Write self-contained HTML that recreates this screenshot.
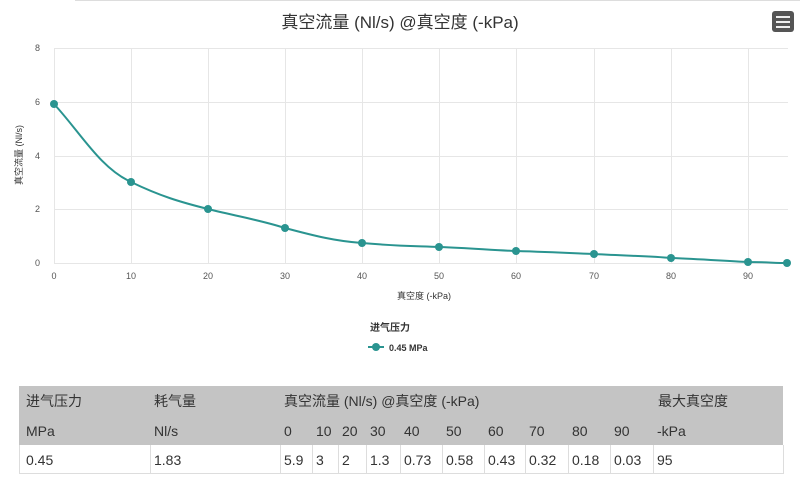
<!DOCTYPE html>
<html><head><meta charset="utf-8"><style>
body{margin:0;width:800px;height:479px;background:#fff;overflow:hidden;position:relative;font-family:"Liberation Sans","Noto Sans CJK SC",sans-serif}
.t{position:absolute;white-space:nowrap}
</style></head><body>
<div style="position:absolute;left:75px;top:0;width:725px;height:1px;background:#ddd"></div>
<div class="t" style="left:0;width:800px;text-align:center;top:8px;font-size:17px;color:#333">真空流量 (Nl/s) @真空度 (-kPa)</div>
<div style="position:absolute;left:772px;top:11px;width:22px;height:21px;background:#555;border-radius:3px"></div>
<div style="position:absolute;left:776px;top:16px;width:14px;height:2px;background:#eee;box-shadow:0 5px 0 #eee,0 10px 0 #eee"></div>
<svg width="800" height="479" style="position:absolute;left:0;top:0" font-family="Liberation Sans, sans-serif">
<g stroke="#e6e6e6" stroke-width="1">
<line x1="54" y1="48.5" x2="788" y2="48.5"/><line x1="54" y1="102.5" x2="788" y2="102.5"/><line x1="54" y1="156.5" x2="788" y2="156.5"/><line x1="54" y1="209.5" x2="788" y2="209.5"/><line x1="54" y1="263.5" x2="788" y2="263.5"/>
<line x1="54.5" y1="48" x2="54.5" y2="263"/><line x1="131.5" y1="48" x2="131.5" y2="263"/><line x1="208.5" y1="48" x2="208.5" y2="263"/><line x1="285.5" y1="48" x2="285.5" y2="263"/><line x1="362.5" y1="48" x2="362.5" y2="263"/><line x1="439.5" y1="48" x2="439.5" y2="263"/><line x1="516.5" y1="48" x2="516.5" y2="263"/><line x1="594.5" y1="48" x2="594.5" y2="263"/><line x1="671.5" y1="48" x2="671.5" y2="263"/><line x1="748.5" y1="48" x2="748.5" y2="263"/>
</g>
<g font-size="9" fill="#555" text-anchor="end">
<text x="40" y="51">8</text><text x="40" y="105">6</text><text x="40" y="159">4</text><text x="40" y="212">2</text><text x="40" y="266">0</text>
</g>
<g font-size="9" fill="#555" text-anchor="middle">
<text x="54" y="279">0</text><text x="131" y="279">10</text><text x="208" y="279">20</text><text x="285" y="279">30</text><text x="362" y="279">40</text><text x="439" y="279">50</text><text x="516" y="279">60</text><text x="594" y="279">70</text><text x="671" y="279">80</text><text x="748" y="279">90</text>
</g>
<text x="424" y="299" font-size="9" fill="#333" text-anchor="middle" font-family="Liberation Sans, Noto Sans CJK SC, sans-serif">真空度 (-kPa)</text>
<text transform="translate(22,155) rotate(-90)" font-size="9" fill="#333" text-anchor="middle" font-family="Liberation Sans, Noto Sans CJK SC, sans-serif">真空流量 (Nl/s)</text>
<path d="M54,104 C80,132 100,168 131,182 C160,196 180,202 208,209 C240,217 260,220 285,228 C315,236 335,241 362,243 C395,246 415,246 439,247 C470,248 490,250 516,251 C550,252 570,253 594,254 C630,256 650,256 671,258 C700,259 725,261 748,262 C765,262 775,263 787,263" fill="none" stroke="#2a9490" stroke-width="2"/>
<g fill="#2a9490">
<circle cx="54" cy="104" r="4"/><circle cx="131" cy="182" r="4"/><circle cx="208" cy="209" r="4"/><circle cx="285" cy="228" r="4"/><circle cx="362" cy="243" r="4"/><circle cx="439" cy="247" r="4"/><circle cx="516" cy="251" r="4"/><circle cx="594" cy="254" r="4"/><circle cx="671" cy="258" r="4"/><circle cx="748" cy="262" r="4"/><circle cx="787" cy="263" r="4"/>
</g>
<text x="370" y="331" font-size="10" font-weight="bold" fill="#333" font-family="Liberation Sans, Noto Sans CJK SC, sans-serif">进气压力</text>
<line x1="368" y1="347" x2="384" y2="347" stroke="#2a9490" stroke-width="2"/><circle cx="376" cy="347" r="4" fill="#2a9490"/>
<text x="389" y="351" font-size="9" font-weight="bold" fill="#333">0.45 MPa</text>
</svg>
<div style="position:absolute;left:19px;top:386px;width:764px;height:59px;background:#c4c4c4"></div>
<div style="position:absolute;left:19px;top:445px;width:763px;height:28px;border:1px solid #ddd;border-top:none"></div>
<div style="position:absolute;left:150px;top:445px;width:1px;height:28px;background:#ddd"></div>
<div style="position:absolute;left:280px;top:445px;width:1px;height:28px;background:#ddd"></div>
<div style="position:absolute;left:312px;top:445px;width:1px;height:28px;background:#ddd"></div>
<div style="position:absolute;left:338px;top:445px;width:1px;height:28px;background:#ddd"></div>
<div style="position:absolute;left:366px;top:445px;width:1px;height:28px;background:#ddd"></div>
<div style="position:absolute;left:400px;top:445px;width:1px;height:28px;background:#ddd"></div>
<div style="position:absolute;left:442px;top:445px;width:1px;height:28px;background:#ddd"></div>
<div style="position:absolute;left:484px;top:445px;width:1px;height:28px;background:#ddd"></div>
<div style="position:absolute;left:525px;top:445px;width:1px;height:28px;background:#ddd"></div>
<div style="position:absolute;left:568px;top:445px;width:1px;height:28px;background:#ddd"></div>
<div style="position:absolute;left:610px;top:445px;width:1px;height:28px;background:#ddd"></div>
<div style="position:absolute;left:653px;top:445px;width:1px;height:28px;background:#ddd"></div>
<div style="font-size:14px;color:#333">
<div class="t" style="left:26px;top:391px">进气压力</div>
<div class="t" style="left:154px;top:391px">耗气量</div>
<div class="t" style="left:284px;top:391px">真空流量 (Nl/s) @真空度 (-kPa)</div>
<div class="t" style="left:658px;top:391px">最大真空度</div>
<div class="t" style="left:26px;top:423px">MPa</div>
<div class="t" style="left:154px;top:423px">Nl/s</div>
<div class="t" style="left:284px;top:423px">0</div>
<div class="t" style="left:316px;top:423px">10</div>
<div class="t" style="left:342px;top:423px">20</div>
<div class="t" style="left:370px;top:423px">30</div>
<div class="t" style="left:404px;top:423px">40</div>
<div class="t" style="left:446px;top:423px">50</div>
<div class="t" style="left:488px;top:423px">60</div>
<div class="t" style="left:529px;top:423px">70</div>
<div class="t" style="left:572px;top:423px">80</div>
<div class="t" style="left:614px;top:423px">90</div>
<div class="t" style="left:657px;top:423px">-kPa</div>
<div class="t" style="left:26px;top:452px">0.45</div>
<div class="t" style="left:154px;top:452px">1.83</div>
<div class="t" style="left:284px;top:452px">5.9</div>
<div class="t" style="left:316px;top:452px">3</div>
<div class="t" style="left:342px;top:452px">2</div>
<div class="t" style="left:370px;top:452px">1.3</div>
<div class="t" style="left:404px;top:452px">0.73</div>
<div class="t" style="left:446px;top:452px">0.58</div>
<div class="t" style="left:488px;top:452px">0.43</div>
<div class="t" style="left:529px;top:452px">0.32</div>
<div class="t" style="left:572px;top:452px">0.18</div>
<div class="t" style="left:614px;top:452px">0.03</div>
<div class="t" style="left:657px;top:452px">95</div>
</div>
</body></html>
